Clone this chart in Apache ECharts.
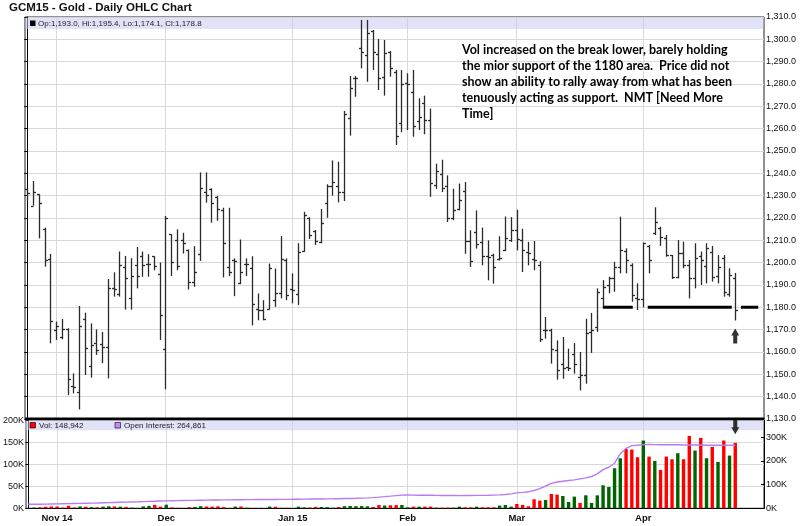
<!DOCTYPE html>
<html><head><meta charset="utf-8">
<script src="https://cdn.jsdelivr.net/npm/echarts@6/dist/echarts.min.js"></script>
<style>html,body{margin:0;padding:0;background:#fff}#c{width:800px;height:526px}</style>
</head><body><div id="c"></div>
<script>
// ---------------- DATA ----------------
const dates = [
 '2014-10-27','2014-10-28','2014-10-29','2014-10-30','2014-10-31',
 '2014-11-03','2014-11-04','2014-11-05','2014-11-06','2014-11-07','2014-11-10','2014-11-11','2014-11-12','2014-11-13','2014-11-14','2014-11-17','2014-11-18','2014-11-19','2014-11-20','2014-11-21','2014-11-24','2014-11-25','2014-11-26','2014-11-28',
 '2014-12-01','2014-12-02','2014-12-03','2014-12-04','2014-12-05','2014-12-08','2014-12-09','2014-12-10','2014-12-11','2014-12-12','2014-12-15','2014-12-16','2014-12-17','2014-12-18','2014-12-19','2014-12-22','2014-12-23','2014-12-24','2014-12-26','2014-12-29','2014-12-30','2014-12-31',
 '2015-01-02','2015-01-05','2015-01-06','2015-01-07','2015-01-08','2015-01-09','2015-01-12','2015-01-13','2015-01-14','2015-01-15','2015-01-16','2015-01-20','2015-01-21','2015-01-22','2015-01-23','2015-01-26','2015-01-27','2015-01-28','2015-01-29','2015-01-30',
 '2015-02-02','2015-02-03','2015-02-04','2015-02-05','2015-02-06','2015-02-09','2015-02-10','2015-02-11','2015-02-12','2015-02-13','2015-02-17','2015-02-18','2015-02-19','2015-02-20','2015-02-23','2015-02-24','2015-02-25','2015-02-26','2015-02-27',
 '2015-03-02','2015-03-03','2015-03-04','2015-03-05','2015-03-06','2015-03-09','2015-03-10','2015-03-11','2015-03-12','2015-03-13','2015-03-16','2015-03-17','2015-03-18','2015-03-19','2015-03-20','2015-03-23','2015-03-24','2015-03-25','2015-03-26','2015-03-27','2015-03-30','2015-03-31',
 '2015-04-01','2015-04-02','2015-04-06','2015-04-07','2015-04-08','2015-04-09','2015-04-10','2015-04-13','2015-04-14','2015-04-15','2015-04-16','2015-04-17','2015-04-20','2015-04-21','2015-04-22','2015-04-23','2015-04-24'
];
const opens = [1233.0,1225.5,1230.6,1215.2,1201.5,1169.9,1166.9,1170.3,1144.9,1142.2,1174.8,1153.9,1164.2,1163.4,1162.1,1188.5,1186.0,1198.0,1184.0,1199.0,1203.0,1199.2,1202.9,1194.9,
 1161.3,1212.8,1210.1,1210.1,1205.6,1191.4,1204.1,1231.8,1232.9,1229.6,1223.6,1198.1,1201.1,1190.7,1199.6,1197.4,1179.4,1178.7,1179.4,1183.2,1186.5,1201.1,
 1188.2,1186.0,1205.2,1219.9,1214.2,1209.4,1226.6,1234.5,1234.5,1231.8,1264.6,1282.8,1296.0,1293.0,1303.7,1293.3,1283.0,1294.5,1285.5,1262.4,
 1280.3,1276.3,1263.4,1271.3,1264.0,1235.0,1239.9,1234.2,1220.1,1224.2,1232.1,1209.6,1213.7,1209.3,1202.8,1203.3,1201.8,1205.5,1210.3,
 1214.8,1210.0,1204.8,1201.8,1198.8,1170.0,1170.0,1161.0,1154.8,1153.3,1159.0,1148.8,1149.6,1169.0,1171.0,1184.3,1190.0,1193.0,1198.0,1205.4,1199.0,1184.0,
 1183.6,1207.5,1213.1,1215.4,1210.9,1203.4,1193.4,1204.5,1199.0,1193.0,1203.0,1198.5,1205.0,1194.0,1202.0,1186.0,1193.0];
const highs = [1233.3,1236.6,1230.6,1215.7,1203.9,1173.6,1174.8,1170.6,1150.4,1180.6,1177.6,1172.8,1170.1,1169.0,1192.7,1195.7,1205.0,1203.0,1202.0,1207.0,1205.0,1203.8,1202.9,1200.1,
 1220.9,1212.8,1214.9,1213.4,1205.9,1207.4,1240.4,1240.4,1233.3,1229.9,1224.6,1224.6,1201.9,1210.4,1201.9,1202.9,1186.2,1183.2,1199.6,1197.4,1211.9,1201.9,
 1195.2,1208.7,1222.8,1220.3,1214.6,1224.0,1235.1,1245.8,1245.2,1267.9,1283.6,1283.6,1308.7,1308.7,1304.2,1300.1,1299.7,1294.8,1286.3,1286.3,
 1284.8,1286.3,1273.6,1274.8,1269.0,1244.3,1246.1,1239.1,1233.1,1235.4,1236.1,1214.5,1223.4,1215.7,1210.0,1204.0,1211.8,1220.7,1220.4,
 1223.7,1215.2,1209.3,1209.7,1200.7,1175.7,1170.4,1165.2,1166.7,1161.5,1164.0,1160.0,1174.9,1177.5,1188.5,1192.2,1193.7,1200.4,1220.6,1206.4,1199.7,1190.7,
 1209.0,1207.9,1224.8,1216.1,1212.4,1203.4,1210.1,1209.4,1201.2,1208.7,1205.0,1208.7,1207.5,1203.4,1203.4,1197.5,1195.4];
const lows = [1227.8,1225.5,1210.9,1198.2,1163.9,1165.4,1165.7,1140.7,1141.5,1134.3,1149.7,1148.5,1158.7,1155.0,1148.2,1184.8,1184.8,1179.0,1179.0,1188.5,1193.7,1193.7,1196.6,1165.4,
 1143.3,1194.0,1196.6,1204.1,1188.0,1189.2,1200.8,1226.9,1217.9,1218.8,1193.4,1194.0,1185.0,1190.4,1194.0,1171.9,1174.2,1174.2,1179.0,1180.2,1184.0,1183.2,
 1181.8,1181.0,1204.9,1210.6,1207.9,1208.7,1220.1,1230.0,1227.0,1227.6,1256.9,1274.3,1287.0,1281.0,1286.3,1277.3,1274.8,1283.3,1252.7,1258.4,
 1259.4,1256.4,1259.4,1257.5,1229.5,1233.0,1231.6,1218.2,1219.0,1223.4,1204.0,1198.1,1206.3,1198.8,1192.1,1190.6,1201.0,1205.2,1209.3,
 1205.5,1195.8,1198.8,1196.6,1164.5,1166.0,1154.8,1147.6,1148.0,1151.5,1150.3,1142.8,1145.8,1159.6,1169.0,1180.3,1186.3,1187.0,1195.2,1195.2,1182.5,1178.8,
 1180.0,1195.2,1212.4,1207.5,1202.7,1192.7,1193.0,1197.5,1184.0,1188.5,1190.0,1190.7,1191.5,1190.7,1184.8,1184.8,1174.1];
const closes = [1231.3,1231.8,1226.9,1201.2,1173.7,1171.8,1170.3,1147.8,1144.5,1171.8,1161.6,1163.0,1160.9,1162.4,1188.5,1188.1,1199.0,1193.0,1194.0,1194.0,1199.0,1199.2,1198.6,1176.5,
 1219.9,1200.4,1198.4,1208.9,1191.4,1195.9,1233.3,1230.3,1226.9,1223.9,1208.9,1195.9,1200.8,1195.9,1199.6,1181.7,1179.0,1174.9,1197.4,1186.2,1201.5,1185.5,
 1187.8,1204.9,1221.3,1212.4,1209.7,1217.6,1234.5,1236.3,1231.8,1266.4,1278.4,1282.5,1294.5,1302.7,1294.5,1282.8,1293.7,1287.3,1256.9,1279.9,
 1279.9,1261.2,1265.4,1263.9,1235.7,1241.0,1233.6,1220.1,1223.7,1227.9,1209.6,1200.7,1208.5,1202.8,1202.5,1198.1,1202.1,1211.2,1214.8,
 1210.7,1205.5,1204.3,1201.3,1166.0,1170.0,1161.5,1151.8,1153.0,1153.0,1154.5,1149.6,1168.5,1170.0,1187.0,1189.3,1193.0,1198.2,1205.7,1201.2,1185.5,1183.6,
 1208.7,1201.2,1218.4,1211.6,1203.4,1193.4,1204.5,1199.0,1193.0,1202.0,1201.0,1206.4,1193.7,1198.2,1187.0,1194.5,1178.8];
const volumes = [900,1800,2300,3500,4200,4000,1500,5800,1900,4200,3600,2500,2300,3800,4500,4200,3700,2800,1600,900,4300,5500,7800,3900,
 8200,2100,1200,800,2500,3100,4800,4100,3800,4400,2600,900,3900,4100,1300,800,600,700,3900,3500,900,1100,
 800,3800,2100,1700,3100,3000,2700,1300,2900,4800,5200,4900,5100,4500,2900,7400,6300,6800,7200,7600,
 2300,3800,3800,3800,3800,1500,1500,1500,1500,3800,2300,2300,3800,2300,2300,2300,6100,7600,3800,
 9900,7600,4600,20500,17500,19000,32700,31200,28100,14400,26600,12200,29600,12200,29600,52400,48600,91200,114000,135300,133800,116300,
 154300,117800,107900,87400,117800,111700,125400,111700,164900,131500,160400,114000,139800,105600,154300,120100,148942];
const openInterest = [16900,17000,17300,17600,18000,18500,19000,19600,20200,20800,21400,22000,22600,23300,24000,24700,25400,26100,26800,27500,28300,29000,29800,30500,
 31200,31800,32300,32800,33200,33600,34000,34400,34800,35100,35400,35700,36000,36200,36400,36600,36800,37000,37200,37400,37600,37800,
 38000,38300,38600,38900,39200,39500,39800,40100,40500,41000,41500,42100,42800,43800,45200,47000,49000,51200,53500,55600,
 56000,55600,55200,55000,54800,54500,54200,54000,53800,53600,53800,54000,54300,54600,55000,55600,56400,58000,61000,
 64800,67000,69500,75000,83000,94000,105000,111000,114000,117000,120000,124000,128000,134000,145000,163000,173000,190000,230000,253000,264000,266000,
 268500,269000,268500,268000,267800,267500,267500,267000,266800,266500,266500,266000,266300,265800,265500,265500,264861];
const monthTickLabels = ['Nov 14','Dec','Jan 15','Feb','Mar','Apr'];
const supportLevel = 1180;
const supportSegments = [[100.0,105.2],[107.8,122.4],[124.0,127.0]]; // [fromIndex, toIndex]
const upArrow = {idx: 123, price: 1167.2};
const downArrow = {idx: 123, vol: 186000};
const annotationLines = [
 'Vol increased on the break lower, barely holding',
 'the mior support of the 1180 area.  Price did not',
 'show an ability to rally away from what has been',
 'tenuously acting as support.  NMT [Need More',
 'Time]'
];

// ---------------- BUILD ----------------
const N = dates.length;
const X_MIN = -0.4, X_MAX = 128.0;
const monthIdx = [];
for (let i = 1; i < N; i++) if (dates[i].slice(5,7) !== dates[i-1].slice(5,7)) monthIdx.push(i);
const fmt1 = v => Number(v).toLocaleString('en-US',{minimumFractionDigits:1,maximumFractionDigits:1});
const L = N - 1;
const priceLegend = `Op:${fmt1(opens[L])}, Hi:${fmt1(highs[L])}, Lo:${fmt1(lows[L])}, Cl:${fmt1(closes[L])}`;
const volLegend = `Vol: ${volumes[L].toLocaleString('en-US')}`;
const oiLegend = `Open Interest: ${openInterest[L].toLocaleString('en-US')}`;

const ohlcData = dates.map((d,i)=>[i, opens[i], highs[i], lows[i], closes[i]]);
const volData = dates.map((d,i)=>({value:[i, volumes[i]], itemStyle:{color:(i>0 && closes[i] < closes[i-1]) ? '#ff0000' : '#006400'}}));
const oiData = dates.map((d,i)=>[i, openInterest[i]]);

const GRID_L = 25, GRID_W = 739;
const gridColor = '#d9d9d9';
const axisFont = {fontFamily:'Liberation Sans, Arial, sans-serif', fontSize:9, color:'#111'};
const arrowPath = 'path://M5,0L10,7L7.5,7L7.5,15L2.5,15L2.5,7L0,7Z';

const option = {
  animation:false,
  backgroundColor:'#fff',
  grid:[
    {left:GRID_L, top:17, width:GRID_W, height:402, show:true, borderColor:'#222', borderWidth:1, backgroundColor:'transparent'},
    {left:GRID_L, top:420.5, width:GRID_W, height:87.8, show:true, borderColor:'#222', borderWidth:1, backgroundColor:'transparent'}
  ],
  xAxis:[
    {gridIndex:0, type:'value', min:X_MIN, max:X_MAX,
     axisLine:{show:false}, axisTick:{show:false, customValues:monthIdx}, axisLabel:{show:false, customValues:monthIdx},
     splitLine:{show:true, lineStyle:{color:gridColor, width:1}}},
    {gridIndex:1, type:'value', min:X_MIN, max:X_MAX,
     axisLine:{show:true, onZero:false, lineStyle:{color:'#000', width:1}}, axisTick:{show:false, customValues:monthIdx},
     axisLabel:{customValues:monthIdx, formatter:v=>monthTickLabels[monthIdx.indexOf(Math.round(v))] || '',
       fontFamily:'Liberation Sans, Arial, sans-serif', fontSize:9.5, fontWeight:'bold', color:'#111', margin:5},
     splitLine:{show:true, lineStyle:{color:gridColor, width:1}}}
  ],
  yAxis:[
    {gridIndex:0, type:'value', position:'right', min:1130, max:1310, interval:10,
     axisLine:{show:true, lineStyle:{color:'#000'}}, axisTick:{show:true, inside:true, length:3, lineStyle:{color:'#000'}},
     axisLabel:Object.assign({margin:2, formatter:v=>fmt1(v)}, axisFont),
     splitLine:{show:true, lineStyle:{color:gridColor, width:1}}},
    {gridIndex:1, type:'value', position:'left', min:0, max:200000, interval:50000,
     axisLine:{show:true, lineStyle:{color:'#000'}}, axisTick:{show:true, inside:false, length:3, lineStyle:{color:'#000'}},
     axisLabel:Object.assign({margin:2, formatter:v=>(v/1000)+'K'}, axisFont),
     splitLine:{show:true, lineStyle:{color:gridColor, width:1}}},
    {gridIndex:1, type:'value', position:'right', min:0, max:370000, interval:100000,
     axisLine:{show:true, lineStyle:{color:'#000'}}, axisTick:{show:true, inside:true, length:3, lineStyle:{color:'#000'}},
     axisLabel:Object.assign({margin:2, showMaxLabel:false, formatter:v=>(v % 100000 === 0 ? (v/1000)+'K' : '')}, axisFont),
     splitLine:{show:false}}
  ],
  series:[
    {type:'custom', name:'OHLC', xAxisIndex:0, yAxisIndex:0, data:ohlcData, encode:{x:0, y:[1,2,3,4]}, clip:false, z:5,
     renderItem:(params, api)=>{
       const x = api.value(0);
       const ph = api.coord([x, api.value(2)]), pl = api.coord([x, api.value(3)]);
       const po = api.coord([x, api.value(1)]), pc = api.coord([x, api.value(4)]);
       const px = Math.round(ph[0]) + 0.5;
       const st = {stroke:'#2a2a2a', lineWidth:1.3};
       return {type:'group', children:[
         {type:'line', shape:{x1:px, y1:ph[1], x2:px, y2:pl[1]}, style:st},
         {type:'line', shape:{x1:px-2.5, y1:Math.round(po[1])+0.5, x2:px, y2:Math.round(po[1])+0.5}, style:st},
         {type:'line', shape:{x1:px, y1:Math.round(pc[1])+0.5, x2:px+2.5, y2:Math.round(pc[1])+0.5}, style:st}
       ]};
     },
     markLine:{silent:true, symbol:'none', data:[{yAxis:closes[L]}], lineStyle:{opacity:0},
       label:{position:'end', distance:1, formatter:fmt1(closes[L]), backgroundColor:'#000', color:'#fff',
         fontFamily:'Liberation Sans, Arial, sans-serif', fontSize:9, padding:[1,2,1,2]}}
    },
    ...supportSegments.map(s=>({type:'line', xAxisIndex:0, yAxisIndex:0, data:[[s[0], supportLevel],[s[1], supportLevel]],
      symbol:'none', silent:true, z:6, lineStyle:{color:'#000', width:3}})),
    {type:'scatter', xAxisIndex:0, yAxisIndex:0, data:[[upArrow.idx, upArrow.price]], symbol:arrowPath, symbolSize:[8,15],
     itemStyle:{color:'#000'}, silent:true, z:7},
    {type:'bar', name:'Vol', xAxisIndex:1, yAxisIndex:1, data:volData, barWidth:3.4, z:3},
    {type:'line', name:'Open Interest', xAxisIndex:1, yAxisIndex:2, data:oiData, showSymbol:false, symbol:'none',
     lineStyle:{color:'#b77cf2', width:1.4}, z:4},
    {type:'scatter', xAxisIndex:1, yAxisIndex:1, data:[[downArrow.idx, downArrow.vol]], symbol:arrowPath, symbolSize:[8,15],
     symbolRotate:180, itemStyle:{color:'#000'}, silent:true, clip:false, z:8}
  ],
  graphic:[
    {type:'text', left:9, top:2, z:10, style:{text:'GCM15 - Gold - Daily OHLC Chart', font:'bold 11.5px "Liberation Sans", Arial, sans-serif', fill:'#111'}},
    {type:'rect', shape:{x:25.5, y:17.5, width:738, height:11.5}, style:{fill:'rgba(200,200,242,0.55)'}, z:1, silent:true},
    {type:'rect', shape:{x:30, y:20.5, width:5.5, height:5.5}, style:{fill:'#000'}, z:10},
    {type:'text', x:38, y:23.5, z:10, style:{text:priceLegend, font:'8px "Liberation Sans", Arial, sans-serif', fill:'#222', textVerticalAlign:'middle'}},
    {type:'rect', shape:{x:25, y:417.4, width:739.5, height:2.8}, style:{fill:'#000'}, z:9},
    {type:'rect', shape:{x:25.5, y:420.5, width:738, height:9.8}, style:{fill:'rgba(200,200,242,0.55)'}, z:1, silent:true},
    {type:'rect', shape:{x:30, y:422.5, width:5.5, height:5.5}, style:{fill:'#ff0000', stroke:'#000', lineWidth:0.6}, z:10},
    {type:'text', x:39, y:425.5, z:10, style:{text:volLegend, font:'8px "Liberation Sans", Arial, sans-serif', fill:'#222', textVerticalAlign:'middle'}},
    {type:'rect', shape:{x:115, y:422.5, width:5.5, height:5.5}, style:{fill:'#c28ef5', stroke:'#000', lineWidth:0.6}, z:10},
    {type:'text', x:124, y:425.5, z:10, style:{text:oiLegend, font:'8px "Liberation Sans", Arial, sans-serif', fill:'#222', textVerticalAlign:'middle'}},
    {type:'text', x:462, y:42, z:10, style:{text:annotationLines.join('\n'), font:'bold 12.5px Lato, "Open Sans", sans-serif', lineHeight:16, fill:'#000'}}
  ]
};
const chart = echarts.init(document.getElementById('c'), null, {renderer:'canvas', width:800, height:526});
chart.setOption(option);
</script>
</body></html>
